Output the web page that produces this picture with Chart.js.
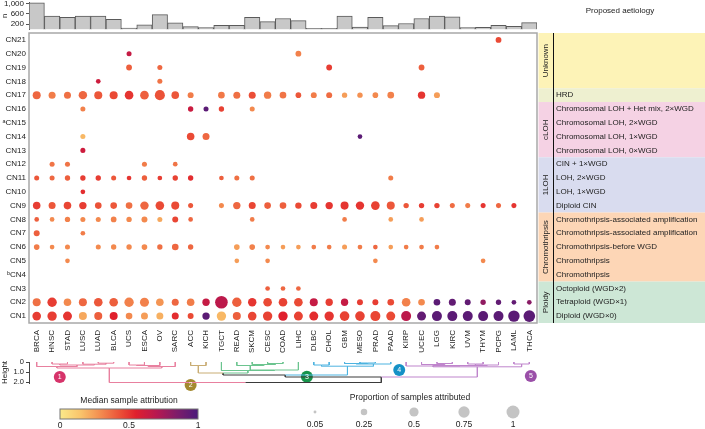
<!DOCTYPE html>
<html>
<head>
<meta charset="utf-8">
<script src="https://cdn.jsdelivr.net/npm/chart.js@4.4.1/dist/chart.umd.min.js"></script>
<style>
html, body { margin: 0; padding: 0; background: #fff; }
#wrap { position: relative; width: 705px; height: 429px; }
#wrap canvas { position: absolute; left: 0; top: 0; }
</style>
</head>
<body>
<div id="wrap">
  <canvas id="barChart" width="705" height="429"></canvas>
  <canvas id="dotChart" width="705" height="429"></canvas>
  <canvas id="treeChart" width="705" height="429"></canvas>
</div>
<script>
// ---- data ----
const cancers = ['BRCA','HNSC','STAD','LUSC','LUAD','BLCA','UCS','ESCA','OV','SARC','ACC','KICH','TGCT','READ','SKCM','CESC','COAD','LIHC','DLBC','CHOL','GBM','MESO','PRAD','PAAD','KIRP','UCEC','LGG','KIRC','UVM','THYM','PCPG','LAML','THCA'];
const sampleCounts = [1020,510,460,510,510,385,57,180,570,250,110,75,160,160,460,300,420,340,45,45,510,95,460,150,230,420,510,480,75,80,160,120,260];
const nTicks = [200, 600, 1000];

const signatures = ['CN21','CN20','CN19','CN18','CN17','CN16','CN15','CN14','CN13','CN12','CN11','CN10','CN9','CN8','CN7','CN6','CN5','CN4','CN3','CN2','CN1'];
const sigLabels = ['CN21','CN20','CN19','CN18','CN17','CN16','\u1d43CN15','CN14','CN13','CN12','CN11','CN10','CN9','CN8','CN7','CN6','CN5','\u1d47CN4','CN3','CN2','CN1'];

const aetiologyGroups = ['Unknown','HRD','cLOH','1LOH','Chromothripsis','Ploidy'];
const groupFirst = ['CN21','CN17','CN16','CN12','CN8','CN3'];
const groupLast = ['CN18','CN17','CN13','CN9','CN4','CN1'];
const aetiologyLabels = ['','','','','HRD',
  'Chromosomal LOH + Het mix, 2\u00d7WGD','Chromosomal LOH, 2\u00d7WGD','Chromosomal LOH, 1\u00d7WGD','Chromosomal LOH, 0\u00d7WGD',
  'CIN + 1\u00d7WGD','LOH, 2\u00d7WGD','LOH, 1\u00d7WGD','Diploid CIN',
  'Chromothripsis-associated amplification','Chromothripsis-associated amplification','Chromothripsis-before WGD','Chromothripsis','Chromothripsis',
  'Octoploid (WGD\u00d72)','Tetraploid (WGD\u00d71)','Diploid (WGD\u00d70)'];

// [signature, cancer, proportion of samples attributed, median sample attribution]
const unknownDots = [
  ['CN21','PCPG',.2,.45],
  ['CN20','UCS',.15,.65],['CN20','LIHC',.2,.32],
  ['CN19','UCS',.2,.4],['CN19','OV',.15,.38],['CN19','CHOL',.2,.48],['CN19','UCEC',.2,.4],
  ['CN18','LUAD',.13,.62],['CN18','OV',.15,.35]
];
const hrdDots = [
  ['CN17','BRCA',.38,.38],['CN17','HNSC',.29,.33],['CN17','STAD',.29,.36],['CN17','LUSC',.42,.38],['CN17','LUAD',.38,.42],
  ['CN17','BLCA',.38,.45],['CN17','UCS',.44,.5],['CN17','ESCA',.44,.4],['CN17','OV',.6,.43],['CN17','SARC',.34,.42],
  ['CN17','ACC',.21,.33],['CN17','TGCT',.26,.34],['CN17','READ',.29,.36],['CN17','SKCM',.29,.44],['CN17','CESC',.32,.33],
  ['CN17','COAD',.26,.35],['CN17','LIHC',.19,.42],['CN17','DLBC',.21,.33],['CN17','CHOL',.21,.37],['CN17','GBM',.17,.25],
  ['CN17','MESO',.17,.28],['CN17','PRAD',.19,.3],['CN17','PAAD',.26,.32],['CN17','UCEC',.32,.5],['CN17','LGG',.21,.25]
];
const clohDots = [
  ['CN16','LUSC',.15,.32],['CN16','ACC',.17,.63],['CN16','KICH',.15,.95],['CN16','TGCT',.17,.47],['CN16','SKCM',.15,.3],
  ['CN14','LUSC',.15,.18],['CN14','ACC',.34,.45],['CN14','KICH',.29,.38],['CN14','MESO',.13,.95],
  ['CN13','LUSC',.15,.62]
];
const lohDots = [
  ['CN12','HNSC',.15,.35],['CN12','STAD',.15,.35],['CN12','ESCA',.15,.33],['CN12','SARC',.13,.35],
  ['CN11','BRCA',.15,.42],['CN11','HNSC',.15,.38],['CN11','STAD',.17,.4],['CN11','LUSC',.17,.48],['CN11','LUAD',.17,.48],
  ['CN11','BLCA',.15,.42],['CN11','UCS',.13,.5],['CN11','ESCA',.17,.4],['CN11','OV',.13,.48],['CN11','SARC',.17,.47],
  ['CN11','ACC',.17,.52],['CN11','TGCT',.13,.4],['CN11','READ',.15,.36],['CN11','SKCM',.15,.36],['CN11','PAAD',.15,.33],
  ['CN10','LUSC',.13,.52],
  ['CN9','BRCA',.34,.48],['CN9','HNSC',.29,.42],['CN9','STAD',.34,.46],['CN9','LUSC',.32,.48],['CN9','LUAD',.26,.43],
  ['CN9','BLCA',.26,.42],['CN9','UCS',.26,.36],['CN9','ESCA',.42,.38],['CN9','OV',.44,.45],['CN9','SARC',.38,.45],
  ['CN9','ACC',.15,.42],['CN9','TGCT',.15,.3],['CN9','READ',.32,.38],['CN9','SKCM',.29,.46],['CN9','CESC',.26,.4],
  ['CN9','COAD',.26,.4],['CN9','LIHC',.24,.45],['CN9','DLBC',.29,.48],['CN9','CHOL',.32,.5],['CN9','GBM',.38,.5],
  ['CN9','MESO',.42,.5],['CN9','PRAD',.44,.47],['CN9','PAAD',.38,.42],['CN9','KIRP',.17,.42],['CN9','UCEC',.17,.48],
  ['CN9','LGG',.17,.47],['CN9','KIRC',.15,.37],['CN9','UVM',.15,.33],['CN9','THYM',.15,.5],['CN9','PCPG',.15,.38],
  ['CN9','LAML',.15,.5]
];
const chromothripsisDots = [
  ['CN8','BRCA',.13,.4],['CN8','HNSC',.13,.3],['CN8','STAD',.17,.32],['CN8','LUSC',.15,.3],['CN8','LUAD',.15,.3],
  ['CN8','BLCA',.19,.32],['CN8','UCS',.17,.3],['CN8','ESCA',.21,.3],['CN8','OV',.15,.22],['CN8','SARC',.21,.46],
  ['CN8','ACC',.13,.38],['CN8','SKCM',.13,.33],['CN8','GBM',.13,.33],['CN8','PAAD',.13,.25],['CN8','UCEC',.13,.25],
  ['CN7','BRCA',.21,.4],['CN7','LUSC',.13,.33],
  ['CN6','BRCA',.19,.33],['CN6','HNSC',.13,.3],['CN6','STAD',.15,.3],['CN6','LUAD',.15,.3],['CN6','BLCA',.17,.3],
  ['CN6','UCS',.17,.3],['CN6','ESCA',.19,.3],['CN6','OV',.17,.36],['CN6','SARC',.26,.38],['CN6','ACC',.17,.38],
  ['CN6','READ',.19,.25],['CN6','SKCM',.19,.32],['CN6','CESC',.13,.3],['CN6','COAD',.13,.25],['CN6','LIHC',.13,.25],
  ['CN6','DLBC',.13,.33],['CN6','CHOL',.13,.33],['CN6','GBM',.15,.25],['CN6','MESO',.13,.33],['CN6','PRAD',.13,.38],
  ['CN6','PAAD',.13,.25],['CN6','KIRP',.13,.33],['CN6','UCEC',.13,.33],['CN6','LGG',.13,.33],
  ['CN5','STAD',.13,.3],['CN5','READ',.13,.25],['CN5','CESC',.13,.3],['CN5','PRAD',.13,.3],['CN5','THYM',.13,.3]
];
const ploidyDots = [
  ['CN3','CESC',.13,.4],['CN3','COAD',.13,.38],['CN3','LIHC',.13,.38],
  ['CN2','BRCA',.38,.36],['CN2','HNSC',.52,.48],['CN2','STAD',.34,.3],['CN2','LUSC',.38,.38],['CN2','LUAD',.44,.42],
  ['CN2','BLCA',.44,.4],['CN2','UCS',.52,.32],['CN2','ESCA',.48,.32],['CN2','OV',.34,.27],['CN2','SARC',.29,.38],
  ['CN2','ACC',.34,.33],['CN2','KICH',.32,.65],['CN2','TGCT',.94,.68],['CN2','READ',.52,.4],['CN2','SKCM',.42,.5],
  ['CN2','CESC',.44,.45],['CN2','COAD',.44,.47],['CN2','LIHC',.44,.45],['CN2','DLBC',.38,.65],['CN2','CHOL',.32,.48],
  ['CN2','GBM',.32,.65],['CN2','MESO',.21,.48],['CN2','PRAD',.21,.48],['CN2','PAAD',.26,.45],['CN2','KIRP',.44,.32],
  ['CN2','UCEC',.26,.3],['CN2','LGG',.26,.95],['CN2','KIRC',.29,.93],['CN2','UVM',.21,.93],['CN2','THYM',.17,.8],
  ['CN2','PCPG',.17,.93],['CN2','LAML',.13,.93],['CN2','THCA',.13,.82],
  ['CN1','BRCA',.44,.48],['CN1','HNSC',.52,.48],['CN1','STAD',.48,.5],['CN1','LUSC',.38,.22],['CN1','LUAD',.38,.4],
  ['CN1','BLCA',.38,.55],['CN1','UCS',.26,.3],['CN1','ESCA',.29,.25],['CN1','OV',.29,.2],['CN1','SARC',.29,.52],
  ['CN1','ACC',.21,.45],['CN1','KICH',.32,.95],['CN1','TGCT',.52,.18],['CN1','READ',.38,.4],['CN1','SKCM',.44,.46],
  ['CN1','CESC',.52,.47],['CN1','COAD',.52,.55],['CN1','LIHC',.48,.47],['CN1','DLBC',.48,.52],['CN1','CHOL',.52,.5],
  ['CN1','GBM',.55,.47],['CN1','MESO',.55,.47],['CN1','PRAD',.59,.46],['CN1','PAAD',.48,.45],['CN1','KIRP',.59,.68],
  ['CN1','UCEC',.48,.93],['CN1','LGG',.59,.95],['CN1','KIRC',.59,.95],['CN1','UVM',.59,.95],['CN1','THYM',.59,.95],
  ['CN1','PCPG',.59,.95],['CN1','LAML',.77,.95],['CN1','THCA',.8,.95]
];

// dendrogram: cluster of each leaf, and merges [node, left, right, height, cluster (0 = above clusters)]
const leafCluster = [1,1,1,1,1,1,1,1,1,1,2,2,3,3,3,3,3,3,4,4,4,4,4,4,5,5,5,5,5,5,5,5,5];
const treeMerges = [
  ['a1','HNSC','STAD',0.2,1],['a2','LUAD','BLCA',0.12,1],['a3','LUSC','a2',0.22,1],['a4','a1','a3',0.3,1],
  ['a5','BRCA','a4',0.45,1],['a6','UCS','ESCA',0.3,1],['a7','a6','OV',0.35,1],['a8','a7','SARC',0.45,1],
  ['c1','a5','a8',0.6,1],
  ['c2','ACC','KICH',0.35,2],
  ['g1','CESC','COAD',0.15,3],['g2','SKCM','g1',0.25,3],['g3','READ','g2',0.35,3],['g4','g3','LIHC',0.8,3],['c3','TGCT','g4',0.85,3],
  ['b1','DLBC','CHOL',0.3,4],['b2','MESO','PRAD',0.1,4],['b3','GBM','b2',0.15,4],['b4','b3','PAAD',0.2,4],['c4','b1','b4',0.42,4],
  ['p1','LGG','KIRC',0.15,5],['p2','UCEC','p1',0.25,5],['p3','UVM','THYM',0.2,5],['p4','p3','PCPG',0.3,5],
  ['p5','p2','p4',0.35,5],['p6','KIRP','p5',0.4,5],['p7','LAML','THCA',0.2,5],['c5','p6','p7',0.48,5],
  ['u1','c2','c3',1.1,0],['u2','u1','c4',1.3,0],['u3','u2','c5',1.5,0],['root','c1','u3',2.05,0]
];
const heightTicks = [0, 1, 2];
const colorbarTicks = [0, 0.5, 1];
const sizeLegendValues = [0.05, 0.25, 0.5, 0.75, 1];

// ---- styling ----
Chart.defaults.font.family = '"Liberation Sans", Arial, Helvetica, sans-serif';
Chart.defaults.font.size = 8;
Chart.defaults.color = '#222';
Chart.defaults.animation = false;
Chart.defaults.events = [];
Chart.defaults.plugins.legend.display = false;
Chart.defaults.plugins.tooltip.enabled = false;

const RMAX = 6.5;
const cmapStops = [[0,[251,233,138]],[0.15,[249,196,107]],[0.3,[243,137,78]],[0.45,[234,74,53]],[0.55,[224,32,45]],[0.7,[183,24,80]],[0.85,[125,28,106]],[1,[74,27,122]]];
function cmap(v) {
  for (let i = 1; i < cmapStops.length; i++) {
    const [v1, c1] = cmapStops[i];
    if (v <= v1) {
      const [v0, c0] = cmapStops[i - 1];
      const t = (v - v0) / (v1 - v0);
      return 'rgb(' + c0.map((c, k) => Math.round(c + (c1[k] - c) * t)).join(',') + ')';
    }
  }
  return 'rgb(' + cmapStops[cmapStops.length - 1][1].join(',') + ')';
}
const groupColors = ['#fdf3b7','#eef0d0','#f5d2e4','#d9dcef','#fdd6b6','#cde7d6'];
const clusterLineColors = ['#e8809f','#c9ad74','#6cc48f','#4db3e0','#bf85cc'];
const badgeColors = ['#d6336a','#a4892f','#17944b','#1591c6','#9a4fa8'];
const badgeX = [1.5, 10, 17.55, 23.55, 32.1];
const badgeH = [1.5, 2.3, 1.47, 0.8, 1.4];

// ---- top bar chart ----
new Chart(document.getElementById('barChart'), {
  type: 'bar',
  data: {
    labels: cancers,
    datasets: [{ data: sampleCounts, backgroundColor: '#c8c8c8', borderColor: '#5a5a5a', borderWidth: 1,
      barPercentage: 1, categoryPercentage: 1 }]
  },
  options: {
    responsive: false,
    layout: { padding: { top: 2, right: 168, bottom: 429 - 29.5, left: 0 } },
    scales: {
      x: { display: false },
      y: {
        min: 0, max: 1050,
        afterBuildTicks: s => { s.ticks = nTicks.map(v => ({ value: v })); },
        afterFit: s => { s.width = 29; s.paddingTop = 0; s.paddingBottom = 0; },
        ticks: { padding: 2, autoSkip: false, callback: v => v.toLocaleString('en-US') },
        grid: { drawOnChartArea: false, tickLength: 3, color: '#555' },
        border: { color: '#555' },
        title: { display: true, text: 'n', padding: 0 }
      }
    }
  }
});

// ---- main dot chart ----
function toPoints(arr) {
  return arr.map(([sig, c, p, m]) => ({ x: c, y: sigLabels[signatures.indexOf(sig)], r: RMAX * Math.sqrt(p), m }));
}
const dotGroups = [unknownDots, hrdDots, clohDots, lohDots, chromothripsisDots, ploidyDots];

const rightPanel = {
  id: 'rightPanel',
  afterDraw(chart) {
    const { ctx, chartArea: a, scales: { y } } = chart;
    const half = (y.getPixelForValue(1) - y.getPixelForValue(0)) / 2;
    ctx.save();
    aetiologyGroups.forEach((g, i) => {
      const y0 = y.getPixelForValue(signatures.indexOf(groupFirst[i])) - half;
      const y1 = y.getPixelForValue(signatures.indexOf(groupLast[i])) + half;
      ctx.fillStyle = groupColors[i];
      ctx.fillRect(a.right + 1.5, y0, 705 - a.right, y1 - y0);
      if (g !== 'HRD') {
        ctx.save();
        ctx.translate(a.right + 9, (y0 + y1) / 2);
        ctx.rotate(-Math.PI / 2);
        ctx.fillStyle = '#222';
        ctx.font = '8px "Liberation Sans", Arial, sans-serif';
        ctx.textAlign = 'center';
        ctx.textBaseline = 'middle';
        ctx.fillText(g, 0, 0);
        ctx.restore();
      }
    });
    ctx.fillStyle = '#222';
    ctx.font = '8px "Liberation Sans", Arial, sans-serif';
    ctx.textAlign = 'left';
    ctx.textBaseline = 'middle';
    aetiologyLabels.forEach((t, i) => { if (t) ctx.fillText(t, a.right + 19, y.getPixelForValue(i)); });
    ctx.textAlign = 'center';
    ctx.fillText('Proposed aetiology', 620, 11);
    ctx.strokeStyle = '#111';
    ctx.lineWidth = 1;
    ctx.beginPath();
    ctx.moveTo(a.right + 16.5, a.top);
    ctx.lineTo(a.right + 16.5, a.bottom);
    ctx.stroke();
    ctx.strokeStyle = '#a8a8a8';
    ctx.lineWidth = 1.5;
    ctx.strokeRect(a.left, a.top, a.right - a.left, a.bottom - a.top);
    ctx.restore();
  }
};

new Chart(document.getElementById('dotChart'), {
  type: 'bubble',
  data: {
    datasets: dotGroups.map(g => ({
      data: toPoints(g),
      backgroundColor: ctx => cmap(ctx.raw.m),
      borderWidth: 0
    }))
  },
  options: {
    responsive: false,
    layout: { padding: { top: 33, right: 168, bottom: 72, left: 0 } },
    scales: {
      x: {
        type: 'category', labels: cancers, offset: true,
        afterFit: s => { s.height = 34; s.paddingLeft = 0; s.paddingRight = 0; },
        grid: { display: false, drawTicks: false }, border: { display: false },
        ticks: { autoSkip: false, minRotation: 90, maxRotation: 90, padding: 7 }
      },
      y: {
        type: 'category', labels: sigLabels, offset: true,
        afterFit: s => { s.width = 29; s.paddingTop = 0; s.paddingBottom = 0; },
        grid: { display: false, drawTicks: false }, border: { display: false },
        ticks: { autoSkip: false, padding: 3 }
      }
    }
  },
  plugins: [rightPanel]
});

// ---- dendrogram + legends ----
const pos = {};
cancers.forEach((c, i) => { pos[c] = { x: i, h: 0, col: clusterLineColors[leafCluster[i] - 1] }; });
const treeSets = [];
treeMerges.forEach(([id, l, r, h, cl]) => {
  const a = pos[l], b = pos[r], mid = (a.x + b.x) / 2;
  [a, b].forEach(ch => treeSets.push({
    data: [{ x: ch.x, y: ch.h }, { x: ch.x, y: h }, { x: mid, y: h }],
    showLine: true, borderColor: ch.col, borderWidth: 1, pointRadius: 0, clip: false
  }));
  pos[id] = { x: mid, h, col: cl ? clusterLineColors[cl - 1] : '#3a3a3a' };
});
treeSets.push({
  data: badgeX.map((x, i) => ({ x, y: badgeH[i] })),
  backgroundColor: badgeColors, pointRadius: 6, borderWidth: 0, clip: false
});

const badgeText = {
  id: 'badgeText',
  afterDatasetsDraw(chart) {
    const { ctx } = chart;
    const meta = chart.getDatasetMeta(chart.data.datasets.length - 1);
    ctx.save();
    ctx.fillStyle = '#fff';
    ctx.font = '7px "Liberation Sans", Arial, sans-serif';
    ctx.textAlign = 'center';
    ctx.textBaseline = 'middle';
    meta.data.forEach((pt, i) => ctx.fillText(String(i + 1), pt.x, pt.y + 0.5));
    ctx.restore();
  }
};

const legends = {
  id: 'legends',
  afterDraw(chart) {
    const { ctx } = chart;
    ctx.save();
    ctx.fillStyle = '#222';
    ctx.font = '8.5px "Liberation Sans", Arial, sans-serif';
    ctx.textAlign = 'center';
    ctx.textBaseline = 'middle';
    // colour bar
    const bx0 = 60, bx1 = 198, by0 = 409, by1 = 419;
    ctx.fillText('Median sample attribution', (bx0 + bx1) / 2, 401);
    const grad = ctx.createLinearGradient(bx0, 0, bx1, 0);
    for (let i = 0; i <= 20; i++) grad.addColorStop(i / 20, cmap(i / 20));
    ctx.fillStyle = grad;
    ctx.fillRect(bx0, by0, bx1 - bx0, by1 - by0);
    ctx.strokeStyle = '#777';
    ctx.lineWidth = 1;
    ctx.strokeRect(bx0, by0, bx1 - bx0, by1 - by0);
    ctx.fillStyle = '#222';
    colorbarTicks.forEach(t => ctx.fillText(String(t), bx0 + t * (bx1 - bx0), 426));
    // size legend
    ctx.fillText('Proportion of samples attributed', 410, 398);
    const sx = [315, 364, 414, 464, 513];
    sizeLegendValues.forEach((p, i) => {
      ctx.fillStyle = '#c4c4c4';
      ctx.beginPath();
      ctx.arc(sx[i], 412, RMAX * Math.sqrt(p), 0, Math.PI * 2);
      ctx.fill();
      ctx.fillStyle = '#222';
      ctx.fillText(String(p), sx[i], 425);
    });
    ctx.restore();
  }
};

new Chart(document.getElementById('treeChart'), {
  type: 'scatter',
  data: { datasets: treeSets },
  options: {
    responsive: false,
    layout: { padding: { top: 362, right: 168, bottom: 429 - 383, left: 0 } },
    scales: {
      x: { type: 'linear', min: -0.5, max: cancers.length - 0.5, display: false },
      y: {
        type: 'linear', reverse: true, min: 0, max: 2.1,
        afterBuildTicks: s => { s.ticks = heightTicks.map(v => ({ value: v })); },
        afterFit: s => { s.width = 29; s.paddingTop = 0; s.paddingBottom = 0; },
        ticks: { padding: 2, autoSkip: false, font: { size: 7.5 }, callback: v => v === 0 ? '0' : v.toFixed(1) },
        grid: { drawOnChartArea: false, tickLength: 3, color: '#444' },
        border: { color: '#444' },
        title: { display: true, text: 'Height', padding: 0 }
      }
    }
  },
  plugins: [badgeText, legends]
});
</script>
</body>
</html>
